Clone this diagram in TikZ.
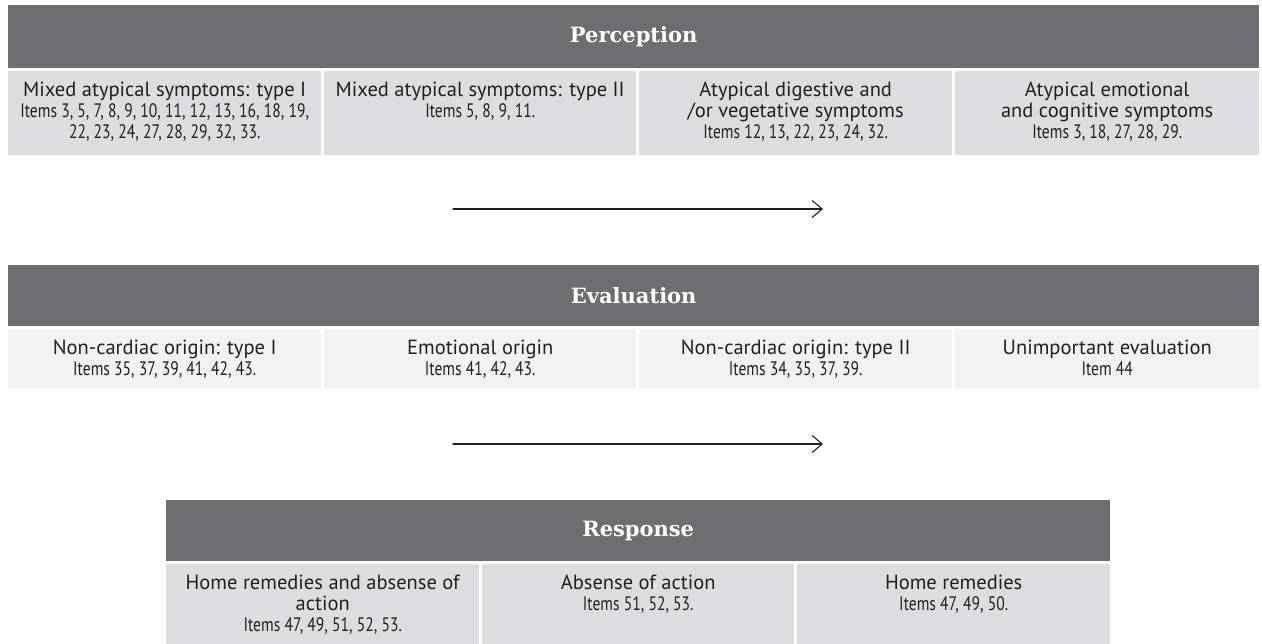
\documentclass[tikz,border=0pt]{standalone}
\usepackage{fontspec}
\usepackage{tikz}
\usetikzlibrary{positioning,arrows.meta}
\setmainfont{PT Sans}
\newfontfamily\headfont{DejaVu Serif}
\newfontfamily\itemfont[FakeStretch=0.8]{PT Sans}
\definecolor{headgray}{RGB}{109,110,113}
\definecolor{darkcell}{RGB}{220,221,224}
\definecolor{lightcell}{RGB}{241,242,244}
\definecolor{inkgray}{RGB}{35,31,32}
\newcommand{\itemline}[1]{{\itemfont\fontsize{19.5}{20.5}\selectfont #1}}

\begin{document}
\begin{tikzpicture}[x=1pt, y=-1pt, line cap=round, line join=round,
    headbar/.style={fill=headgray, text=white, anchor=north west, inner sep=0pt,
      font=\headfont\bfseries\fontsize{21}{25}\selectfont},
    cellbox/.style={anchor=north west, inner sep=0pt},
    celltext/.style={anchor=north, inner sep=0pt, align=center, text=inkgray,
      font=\fontsize{20.5}{21}\selectfont},
    flowarrow/.style={draw=inkgray, line width=1.1pt, -{Straight Barb[length=10pt, width=17pt, line width=1.1pt]}}]
  \useasboundingbox (0,0) rectangle (1262,644);
  % headers
  \node[headbar, minimum width=1251pt, minimum height=63pt] (perc) at (8,5) {Perception};
  \node[headbar, minimum width=1251pt, minimum height=61pt] (eval) at (8,265) {Evaluation};
  \node[headbar, minimum width=944pt, minimum height=61pt] (resp) at (166,500) {Response};
  % cells
  \foreach \name/\x/\y/\w/\h/\col in {p1/8/71/313/84/darkcell, p2/324/71/312/84/darkcell,
      p3/639/71/313/84/darkcell, p4/955/71/304/84/darkcell,
      e1/8/329/313/60/lightcell, e2/324/329/312/60/lightcell,
      e3/639/329/313/60/lightcell, e4/955/329/304/60/lightcell,
      r1/166/564/313/80/darkcell, r2/482/564/312/80/darkcell, r3/797/564/313/80/darkcell}
    \node[cellbox, fill=\col, minimum width=\w pt, minimum height=\h pt] (\name) at (\x,\y) {};
  % perception
  \node[celltext] (p1t) at ([yshift=-11pt]p1.north) {Mixed atypical symptoms: type I\\
    \itemline{Items 3, 5, 7, 8, 9, 10, 11, 12, 13, 16, 18, 19,}\\ \itemline{22, 23, 24, 27, 28, 29, 32, 33.}};
  \node[celltext] (p2t) at ([yshift=-11pt]p2.north) {Mixed atypical symptoms: type II\\
    \itemline{Items 5, 8, 9, 11.}};
  \node[celltext] (p3t) at ([yshift=-11pt]p3.north) {Atypical digestive and\\ /or vegetative symptoms\\
    \itemline{Items 12, 13, 22, 23, 24, 32.}};
  \node[celltext] (p4t) at ([yshift=-11pt]p4.north) {Atypical emotional\\ and cognitive symptoms\\
    \itemline{Items 3, 18, 27, 28, 29.}};
  % evaluation
  \node[celltext] (e1t) at ([yshift=-11pt]e1.north) {Non-cardiac origin: type I\\ \itemline{Items 35, 37, 39, 41, 42, 43.}};
  \node[celltext] (e2t) at ([yshift=-11pt]e2.north) {Emotional origin\\ \itemline{Items 41, 42, 43.}};
  \node[celltext] (e3t) at ([yshift=-11pt]e3.north) {Non-cardiac origin: type II\\ \itemline{Items 34, 35, 37, 39.}};
  \node[celltext] (e4t) at ([yshift=-11pt]e4.north) {Unimportant evaluation\\ \itemline{Item 44}};
  % response
  \node[celltext] (r1t) at ([yshift=-11pt]r1.north) {Home remedies and absense of\\ action\\
    \itemline{Items 47, 49, 51, 52, 53.}};
  \node[celltext] (r2t) at ([yshift=-11pt]r2.north) {Absense of action\\ \itemline{Items 51, 52, 53.}};
  \node[celltext] (r3t) at ([yshift=-11pt]r3.north) {Home remedies\\ \itemline{Items 47, 49, 50.}};
  % arrows
  \coordinate (a1s) at (453,209);
  \coordinate (a1e) at (823,209);
  \coordinate (a2s) at (453,444);
  \coordinate (a2e) at (823,444);
  \draw[flowarrow] (a1s) -- (a1e);
  \draw[flowarrow] (a2s) -- (a2e);
\end{tikzpicture}
\end{document}
